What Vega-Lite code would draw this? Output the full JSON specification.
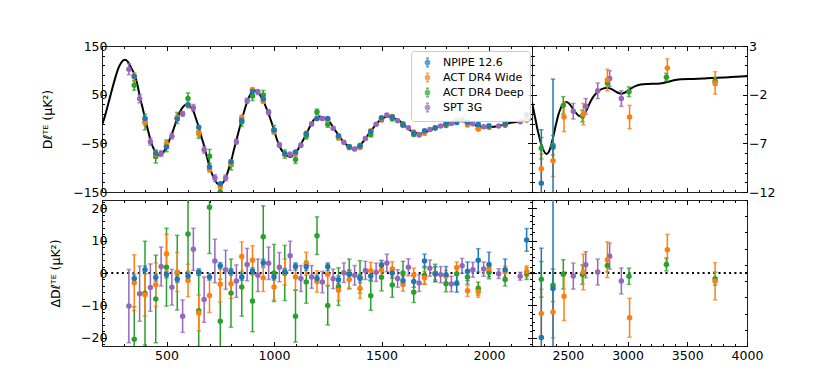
{
"$schema": "https://vega.github.io/schema/vega-lite/v6.json",
"background": "white",
"padding": {"left": 41, "top": 39, "right": 5, "bottom": 5},
"config": {
  "font": "DejaVu Sans",
  "view": {"stroke": "#222222", "strokeWidth": 1},
  "axis": {"domain": false, "grid": false, "tickColor": "black", "tickWidth": 1, "labelFont": "DejaVu Sans", "labelFontSize": 12.5, "labelColor": "black", "titleFont": "DejaVu Sans", "titleFontSize": 12.5, "titleFontWeight": "normal", "titleColor": "black", "labelOverlap": false, "labelFlush": false, "labelBound": false, "labelPadding": 1.5},
  "axisBottom": {"labelPadding": 8},
  "axisLeft": {"labelPadding": -0.5},
  "axisRight": {"labelPadding": 6},
  "legend": {"labelFont": "DejaVu Sans", "labelFontSize": 11, "labelColor": "black"}
},
"datasets": {
  "pts": [
    {"l":325,"s":"SPT 3G","D":102.4,"R":-10.2,"e":11.3},{"l":375,"s":"SPT 3G","D":41.6,"R":-6.4,"e":8.5},{"l":425,"s":"SPT 3G","D":-46.5,"R":-4.5,"e":7.3},{"l":475,"s":"SPT 3G","D":-71.0,"R":2.0,"e":6.0},{"l":525,"s":"SPT 3G","D":-35.4,"R":-4.4,"e":5.5},{"l":575,"s":"SPT 3G","D":10.7,"R":-13.3,"e":5.0},{"l":625,"s":"SPT 3G","D":23.3,"R":7.3,"e":6.5},{"l":675,"s":"SPT 3G","D":-63.2,"R":-8.2,"e":7.0},{"l":725,"s":"SPT 3G","D":-121.3,"R":3.7,"e":6.7},{"l":775,"s":"SPT 3G","D":-121.0,"R":1.0,"e":6.0},{"l":825,"s":"SPT 3G","D":-46.5,"R":-2.5,"e":5.0},{"l":875,"s":"SPT 3G","D":37.6,"R":2.6,"e":5.0},{"l":925,"s":"SPT 3G","D":55.3,"R":-0.7,"e":5.0},{"l":975,"s":"SPT 3G","D":14.0,"R":3.0,"e":5.0},{"l":1025,"s":"SPT 3G","D":-53.2,"R":1.8,"e":4.5},{"l":1075,"s":"SPT 3G","D":-72.7,"R":5.3,"e":4.5},{"l":1125,"s":"SPT 3G","D":-53.7,"R":-1.7,"e":4.0},{"l":1175,"s":"SPT 3G","D":-10.2,"R":-1.2,"e":3.5},{"l":1225,"s":"SPT 3G","D":1.2,"R":-2.8,"e":3.3},{"l":1275,"s":"SPT 3G","D":-18.8,"R":-1.8,"e":3.0},{"l":1325,"s":"SPT 3G","D":-47.9,"R":0.1,"e":3.0},{"l":1375,"s":"SPT 3G","D":-61.7,"R":-0.7,"e":3.0},{"l":1425,"s":"SPT 3G","D":-40.2,"R":0.8,"e":2.8},{"l":1475,"s":"SPT 3G","D":-10.8,"R":0.2,"e":2.8},{"l":1525,"s":"SPT 3G","D":8.1,"R":3.1,"e":2.7},{"l":1575,"s":"SPT 3G","D":-3.7,"R":-1.7,"e":2.7},{"l":1625,"s":"SPT 3G","D":-18.2,"R":1.8,"e":2.6},{"l":1675,"s":"SPT 3G","D":-33.1,"R":-3.1,"e":2.6},{"l":1725,"s":"SPT 3G","D":-21.5,"R":1.5,"e":2.5},{"l":1775,"s":"SPT 3G","D":-14.5,"R":-0.5,"e":2.5},{"l":1825,"s":"SPT 3G","D":-9.4,"R":-3.4,"e":2.4},{"l":1875,"s":"SPT 3G","D":-1.8,"R":2.2,"e":2.3},{"l":1925,"s":"SPT 3G","D":-10.0,"R":1.0,"e":2.3},{"l":1975,"s":"SPT 3G","D":-15.8,"R":1.2,"e":2.2},{"l":2045,"s":"SPT 3G","D":-14.6,"R":-0.2,"e":1.5},{"l":2145,"s":"SPT 3G","D":-5.5,"R":-1.0,"e":1.2},
    {"l":2546,"s":"SPT 3G","D":-3.7,"R":-0.19,"e":0.8},{"l":2650,"s":"SPT 3G","D":-3.2,"R":0.51,"e":0.8},{"l":2750,"s":"SPT 3G","D":-1.6,"R":0.06,"e":0.8},{"l":2850,"s":"SPT 3G","D":-0.34,"R":1.04,"e":0.8},{"l":2948,"s":"SPT 3G","D":-2.4,"R":-0.49,"e":0.8},
    {"l":350,"s":"ACT DR4 Deep","D":69.3,"R":-20.4,"e":10},{"l":400,"s":"ACT DR4 Deep","D":-6.2,"R":-6.2,"e":16},{"l":450,"s":"ACT DR4 Deep","D":-77.0,"R":-8.0,"e":13.5},{"l":500,"s":"ACT DR4 Deep","D":-55.2,"R":1.8,"e":12},{"l":550,"s":"ACT DR4 Deep","D":2.1,"R":0.1,"e":11.5},{"l":600,"s":"ACT DR4 Deep","D":42.0,"R":12.0,"e":11.5},{"l":650,"s":"ACT DR4 Deep","D":-28.6,"R":-11.6,"e":11},{"l":700,"s":"ACT DR4 Deep","D":-76.7,"R":20.3,"e":14.3},{"l":750,"s":"ACT DR4 Deep","D":-149.9,"R":-14.9,"e":13},{"l":800,"s":"ACT DR4 Deep","D":-94.2,"R":-6.2,"e":10.5},{"l":850,"s":"ACT DR4 Deep","D":-6.3,"R":-4.3,"e":9},{"l":900,"s":"ACT DR4 Deep","D":47.4,"R":-8.6,"e":9.5},{"l":950,"s":"ACT DR4 Deep","D":49.2,"R":11.2,"e":9.5},{"l":1000,"s":"ACT DR4 Deep","D":-22.0,"R":0.0,"e":8.8},{"l":1050,"s":"ACT DR4 Deep","D":-72.0,"R":0.0,"e":8.5},{"l":1100,"s":"ACT DR4 Deep","D":-83.3,"R":-13.3,"e":8},{"l":1150,"s":"ACT DR4 Deep","D":-34.8,"R":-2.8,"e":6.5},{"l":1200,"s":"ACT DR4 Deep","D":14.5,"R":11.5,"e":5.8},{"l":1250,"s":"ACT DR4 Deep","D":-11.0,"R":-10.0,"e":6},{"l":1300,"s":"ACT DR4 Deep","D":-37.2,"R":-4.2,"e":5.8},{"l":1350,"s":"ACT DR4 Deep","D":-57.2,"R":-0.2,"e":4.5},{"l":1400,"s":"ACT DR4 Deep","D":-55.2,"R":-1.2,"e":5},{"l":1450,"s":"ACT DR4 Deep","D":-32.0,"R":-7.0,"e":4.5},{"l":1500,"s":"ACT DR4 Deep","D":-1.3,"R":-1.3,"e":4.2},{"l":1550,"s":"ACT DR4 Deep","D":0.3,"R":-3.7,"e":3.8},{"l":1600,"s":"ACT DR4 Deep","D":-10.0,"R":0.0,"e":3.6},{"l":1650,"s":"ACT DR4 Deep","D":-31.9,"R":-5.9,"e":3.2},{"l":1700,"s":"ACT DR4 Deep","D":-28.7,"R":-0.7,"e":2.8},{"l":1750,"s":"ACT DR4 Deep","D":-18.0,"R":0.0,"e":2.7},{"l":1800,"s":"ACT DR4 Deep","D":-13.3,"R":-3.3,"e":2.5},{"l":1850,"s":"ACT DR4 Deep","D":-4.2,"R":-0.2,"e":2.3},{"l":1900,"s":"ACT DR4 Deep","D":-8.2,"R":-1.2,"e":2.2},{"l":1950,"s":"ACT DR4 Deep","D":-19.8,"R":-4.8,"e":2.0},{"l":2000,"s":"ACT DR4 Deep","D":-16.8,"R":0.2,"e":2.0},{"l":2075,"s":"ACT DR4 Deep","D":-13.0,"R":-2.0,"e":2.0},{"l":2175,"s":"ACT DR4 Deep","D":-2.2,"R":-0.2,"e":1.8},
    {"l":2278,"s":"ACT DR4 Deep","D":-7.5,"R":-0.39,"e":1.1},{"l":2376,"s":"ACT DR4 Deep","D":-7.2,"R":-0.76,"e":1.0},{"l":2462,"s":"ACT DR4 Deep","D":-3.1,"R":-0.08,"e":0.9},{"l":2622,"s":"ACT DR4 Deep","D":-4.2,"R":-0.1,"e":0.6},{"l":2831,"s":"ACT DR4 Deep","D":-0.8,"R":0.47,"e":0.4},{"l":3012,"s":"ACT DR4 Deep","D":-1.7,"R":-0.2,"e":0.5},{"l":3325,"s":"ACT DR4 Deep","D":-0.2,"R":0.53,"e":0.4},{"l":3733,"s":"ACT DR4 Deep","D":-0.63,"R":-0.35,"e":0.4},
    {"l":350,"s":"ACT DR4 Wide","D":86.7,"R":-3.0,"e":8.6},{"l":400,"s":"ACT DR4 Wide","D":-6.7,"R":-6.7,"e":6.5},{"l":450,"s":"ACT DR4 Wide","D":-72.6,"R":-3.6,"e":6.7},{"l":500,"s":"ACT DR4 Wide","D":-51.1,"R":5.9,"e":6.0},{"l":550,"s":"ACT DR4 Wide","D":2.3,"R":0.3,"e":6.0},{"l":600,"s":"ACT DR4 Wide","D":27.7,"R":-2.3,"e":5.0},{"l":650,"s":"ACT DR4 Wide","D":-29.3,"R":-12.3,"e":5.5},{"l":700,"s":"ACT DR4 Wide","D":-103.9,"R":-6.9,"e":5.3},{"l":750,"s":"ACT DR4 Wide","D":-138.5,"R":-3.5,"e":5.4},{"l":800,"s":"ACT DR4 Wide","D":-91.3,"R":-3.3,"e":4.5},{"l":850,"s":"ACT DR4 Wide","D":3.1,"R":5.1,"e":4.5},{"l":900,"s":"ACT DR4 Wide","D":59.9,"R":3.9,"e":4.5},{"l":950,"s":"ACT DR4 Wide","D":36.5,"R":-1.5,"e":4.2},{"l":1000,"s":"ACT DR4 Wide","D":-26.3,"R":-4.3,"e":4.0},{"l":1050,"s":"ACT DR4 Wide","D":-71.7,"R":0.3,"e":4.0},{"l":1100,"s":"ACT DR4 Wide","D":-71.2,"R":-1.2,"e":4.0},{"l":1150,"s":"ACT DR4 Wide","D":-29.1,"R":2.9,"e":3.5},{"l":1200,"s":"ACT DR4 Wide","D":0.4,"R":-2.6,"e":3.3},{"l":1250,"s":"ACT DR4 Wide","D":-1.5,"R":-0.5,"e":3.2},{"l":1300,"s":"ACT DR4 Wide","D":-38.3,"R":-5.3,"e":3.2},{"l":1350,"s":"ACT DR4 Wide","D":-59.0,"R":-2.0,"e":3.0},{"l":1400,"s":"ACT DR4 Wide","D":-58.8,"R":-4.8,"e":3.0},{"l":1450,"s":"ACT DR4 Wide","D":-24.3,"R":0.7,"e":2.6},{"l":1500,"s":"ACT DR4 Wide","D":0.9,"R":0.9,"e":2.4},{"l":1550,"s":"ACT DR4 Wide","D":5.2,"R":1.2,"e":2.3},{"l":1600,"s":"ACT DR4 Wide","D":-13.4,"R":-3.4,"e":2.2},{"l":1650,"s":"ACT DR4 Wide","D":-26.6,"R":-0.6,"e":2.1},{"l":1700,"s":"ACT DR4 Wide","D":-29.5,"R":-1.5,"e":2.0},{"l":1750,"s":"ACT DR4 Wide","D":-18.2,"R":-0.2,"e":1.9},{"l":1800,"s":"ACT DR4 Wide","D":-11.0,"R":-1.0,"e":1.8},{"l":1850,"s":"ACT DR4 Wide","D":-2.4,"R":1.6,"e":1.8},{"l":1900,"s":"ACT DR4 Wide","D":-12.5,"R":-5.5,"e":1.7},{"l":1950,"s":"ACT DR4 Wide","D":-20.8,"R":-5.8,"e":1.7},{"l":2000,"s":"ACT DR4 Wide","D":-15.7,"R":1.3,"e":1.7},{"l":2075,"s":"ACT DR4 Wide","D":-10.6,"R":0.4,"e":1.7},{"l":2175,"s":"ACT DR4 Wide","D":-1.5,"R":0.5,"e":1.7},
    {"l":2278,"s":"ACT DR4 Wide","D":-9.6,"R":-2.5,"e":1.5},{"l":2376,"s":"ACT DR4 Wide","D":-8.8,"R":-2.4,"e":1.6},{"l":2468,"s":"ACT DR4 Wide","D":-4.3,"R":-1.43,"e":1.5},{"l":2630,"s":"ACT DR4 Wide","D":-4.0,"R":0.06,"e":1.1},{"l":2831,"s":"ACT DR4 Wide","D":-0.5,"R":0.82,"e":1.1},{"l":3017,"s":"ACT DR4 Wide","D":-4.3,"R":-2.76,"e":1.2},{"l":3333,"s":"ACT DR4 Wide","D":0.73,"R":1.43,"e":0.95},{"l":3733,"s":"ACT DR4 Wide","D":-0.79,"R":-0.51,"e":1.15},
    {"l":350,"s":"NPIPE 12.6","D":88.0,"R":-1.7,"e":1.2},{"l":400,"s":"NPIPE 12.6","D":1.0,"R":1.0,"e":1.2},{"l":450,"s":"NPIPE 12.6","D":-70.4,"R":-1.4,"e":1.1},{"l":500,"s":"NPIPE 12.6","D":-57.5,"R":-0.5,"e":1.0},{"l":550,"s":"NPIPE 12.6","D":0.1,"R":-1.9,"e":1.0},{"l":600,"s":"NPIPE 12.6","D":29.1,"R":-0.9,"e":1.0},{"l":650,"s":"NPIPE 12.6","D":-16.7,"R":0.3,"e":1.0},{"l":700,"s":"NPIPE 12.6","D":-98.2,"R":-1.2,"e":1.0},{"l":750,"s":"NPIPE 12.6","D":-132.8,"R":2.2,"e":1.0},{"l":800,"s":"NPIPE 12.6","D":-87.7,"R":0.3,"e":1.0},{"l":850,"s":"NPIPE 12.6","D":-3.2,"R":-1.2,"e":1.0},{"l":900,"s":"NPIPE 12.6","D":56.6,"R":0.6,"e":1.0},{"l":950,"s":"NPIPE 12.6","D":41.2,"R":3.2,"e":1.0},{"l":1000,"s":"NPIPE 12.6","D":-23.2,"R":-1.2,"e":1.0},{"l":1050,"s":"NPIPE 12.6","D":-71.6,"R":0.4,"e":1.0},{"l":1100,"s":"NPIPE 12.6","D":-68.0,"R":2.0,"e":1.1},{"l":1150,"s":"NPIPE 12.6","D":-30.1,"R":1.9,"e":1.1},{"l":1200,"s":"NPIPE 12.6","D":1.3,"R":-1.7,"e":1.1},{"l":1250,"s":"NPIPE 12.6","D":0.9,"R":1.9,"e":1.2},{"l":1300,"s":"NPIPE 12.6","D":-35.1,"R":-2.1,"e":1.2},{"l":1350,"s":"NPIPE 12.6","D":-57.5,"R":-0.5,"e":1.3},{"l":1400,"s":"NPIPE 12.6","D":-55.7,"R":-1.7,"e":1.3},{"l":1450,"s":"NPIPE 12.6","D":-25.9,"R":-0.9,"e":1.4},{"l":1500,"s":"NPIPE 12.6","D":2.4,"R":2.4,"e":1.5},{"l":1550,"s":"NPIPE 12.6","D":4.0,"R":0.0,"e":1.6},{"l":1600,"s":"NPIPE 12.6","D":-12.4,"R":-2.4,"e":1.7},{"l":1650,"s":"NPIPE 12.6","D":-28.6,"R":-2.6,"e":1.8},{"l":1700,"s":"NPIPE 12.6","D":-24.3,"R":3.7,"e":2.1},{"l":1750,"s":"NPIPE 12.6","D":-18.3,"R":-0.3,"e":2.3},{"l":1800,"s":"NPIPE 12.6","D":-10.5,"R":-0.5,"e":2.5},{"l":1850,"s":"NPIPE 12.6","D":-7.2,"R":-3.2,"e":2.7},{"l":1900,"s":"NPIPE 12.6","D":-6.5,"R":0.5,"e":2.9},{"l":1950,"s":"NPIPE 12.6","D":-11.1,"R":3.9,"e":3.6},{"l":2000,"s":"NPIPE 12.6","D":-14.4,"R":2.6,"e":3.8},{"l":2075,"s":"NPIPE 12.6","D":-10.0,"R":1.0,"e":3.3},{"l":2175,"s":"NPIPE 12.6","D":8.2,"R":10.2,"e":3.5},
    {"l":2278,"s":"NPIPE 12.6","D":-11.1,"R":-3.97,"e":5.5},{"l":2376,"s":"NPIPE 12.6","D":-7.4,"R":-0.96,"e":7.0}
  ],
  "mtl": [
    {"l":200,"v":-13},{"l":215,"v":8},{"l":230,"v":33},{"l":245,"v":58},{"l":260,"v":82},{"l":275,"v":103},{"l":290,"v":116},{"l":300,"v":121},{"l":308,"v":122},{"l":318,"v":119},{"l":330,"v":110},{"l":342,"v":100},{"l":354,"v":88},{"l":366,"v":68},{"l":376,"v":46},{"l":388,"v":24},{"l":400,"v":2},{"l":412,"v":-20},{"l":425,"v":-42},{"l":437,"v":-58},{"l":450,"v":-69},{"l":462,"v":-74},{"l":475,"v":-73},{"l":488,"v":-67},{"l":500,"v":-57},{"l":512,"v":-45},{"l":525,"v":-31},{"l":538,"v":-14},{"l":550,"v":2},{"l":562,"v":14},{"l":575,"v":24},{"l":587,"v":29},{"l":600,"v":30},{"l":612,"v":25},{"l":625,"v":16},{"l":637,"v":1},{"l":650,"v":-17},{"l":662,"v":-36},{"l":675,"v":-55},{"l":687,"v":-76},{"l":700,"v":-97},{"l":712,"v":-113},{"l":725,"v":-125},{"l":737,"v":-133},{"l":750,"v":-135},{"l":762,"v":-131},{"l":775,"v":-122},{"l":787,"v":-106},{"l":800,"v":-88},{"l":812,"v":-66},{"l":825,"v":-44},{"l":837,"v":-23},{"l":850,"v":-2},{"l":862,"v":17},{"l":875,"v":35},{"l":887,"v":48},{"l":900,"v":56},{"l":912,"v":58},{"l":925,"v":56},{"l":937,"v":48},{"l":950,"v":38},{"l":962,"v":25},{"l":975,"v":11},{"l":987,"v":-5},{"l":1000,"v":-22},{"l":1012,"v":-40},{"l":1025,"v":-55},{"l":1037,"v":-65},{"l":1050,"v":-72},{"l":1062,"v":-76},{"l":1075,"v":-78},{"l":1087,"v":-75},{"l":1100,"v":-70},{"l":1112,"v":-62},{"l":1125,"v":-52},{"l":1137,"v":-42},{"l":1150,"v":-32},{"l":1162,"v":-20},{"l":1175,"v":-9},{"l":1187,"v":-1},{"l":1200,"v":3},{"l":1212,"v":5},{"l":1225,"v":4},{"l":1237,"v":2},{"l":1250,"v":-1},{"l":1262,"v":-8},{"l":1275,"v":-17},{"l":1287,"v":-25},{"l":1300,"v":-33},{"l":1312,"v":-41},{"l":1325,"v":-48},{"l":1337,"v":-53},{"l":1350,"v":-57},{"l":1362,"v":-60},{"l":1375,"v":-61},{"l":1387,"v":-59},{"l":1400,"v":-54},{"l":1412,"v":-48},{"l":1425,"v":-41},{"l":1437,"v":-33},{"l":1450,"v":-25},{"l":1462,"v":-18},{"l":1475,"v":-11},{"l":1487,"v":-5},{"l":1500,"v":0},{"l":1512,"v":3},{"l":1525,"v":5},{"l":1537,"v":5},{"l":1550,"v":4},{"l":1562,"v":1},{"l":1575,"v":-2},{"l":1587,"v":-5},{"l":1600,"v":-10},{"l":1612,"v":-15},{"l":1625,"v":-20},{"l":1637,"v":-24},{"l":1650,"v":-26},{"l":1662,"v":-29},{"l":1675,"v":-30},{"l":1687,"v":-30},{"l":1700,"v":-28},{"l":1712,"v":-26},{"l":1725,"v":-23},{"l":1737,"v":-21},{"l":1750,"v":-18},{"l":1775,"v":-14},{"l":1800,"v":-10},{"l":1825,"v":-6},{"l":1850,"v":-4},{"l":1875,"v":-4},{"l":1900,"v":-7},{"l":1925,"v":-11},{"l":1950,"v":-15},{"l":1975,"v":-17},{"l":2000,"v":-17},{"l":2025,"v":-16},{"l":2050,"v":-14},{"l":2075,"v":-11},{"l":2100,"v":-8},{"l":2125,"v":-6},{"l":2150,"v":-4},{"l":2175,"v":-2},{"l":2200,"v":0}
  ],
  "mtr": [
    {"l":2200,"v":-2.8},{"l":2225,"v":-4.3},{"l":2250,"v":-5.8},{"l":2275,"v":-7.0},{"l":2300,"v":-7.8},{"l":2320,"v":-8.1},{"l":2340,"v":-7.9},{"l":2360,"v":-7.2},{"l":2380,"v":-6.2},{"l":2400,"v":-5.1},{"l":2420,"v":-4.1},{"l":2440,"v":-3.4},{"l":2460,"v":-3.0},{"l":2485,"v":-2.75},{"l":2510,"v":-2.9},{"l":2540,"v":-3.4},{"l":2570,"v":-3.9},{"l":2600,"v":-4.2},{"l":2630,"v":-4.1},{"l":2660,"v":-3.5},{"l":2690,"v":-2.7},{"l":2720,"v":-2.1},{"l":2760,"v":-1.6},{"l":2800,"v":-1.35},{"l":2830,"v":-1.3},{"l":2870,"v":-1.45},{"l":2910,"v":-1.75},{"l":2950,"v":-1.9},{"l":2990,"v":-1.7},{"l":3030,"v":-1.35},{"l":3070,"v":-1.1},{"l":3110,"v":-0.95},{"l":3170,"v":-0.9},{"l":3250,"v":-0.88},{"l":3300,"v":-0.8},{"l":3350,"v":-0.65},{"l":3400,"v":-0.5},{"l":3450,"v":-0.42},{"l":3550,"v":-0.38},{"l":3650,"v":-0.33},{"l":3750,"v":-0.27},{"l":3850,"v":-0.2},{"l":3950,"v":-0.13},{"l":4000,"v":-0.1}
  ]
},
"spacing": -6,
"vconcat": [
  {"hconcat": [
    {"width": 430, "height": 146,
     "layer": [
      {"data": {"name": "mtl"},
       "mark": {"type": "line", "color": "black", "strokeWidth": 2, "interpolate": "monotone", "clip": true},
       "encoding": {
         "x": {"field": "l", "type": "quantitative", "scale": {"domain": [200, 2200], "nice": false, "zero": false},
               "axis": {"orient": "bottom", "values": [200,300,400,500,600,700,800,900,1000,1100,1200,1300,1400,1500,1600,1700,1800,1900,2000,2100,2200], "tickSize": {"condition": {"test": "datum.value % 500 === 0", "value": -4.5}, "value": -2.5}, "labels": false, "title": null}},
         "y": {"field": "v", "type": "quantitative", "scale": {"domain": [-150, 150], "nice": false, "zero": false},
               "axis": {"orient": "left", "values": [-150,-130,-110,-90,-70,-50,-30,-10,10,30,50,70,90,110,130,150], "tickSize": {"condition": {"test": "abs(datum.value) % 100 === 50", "value": -4.5}, "value": -2.5}, "format": "d", "labelExpr": "abs(datum.value) % 100 === 50 ? datum.label : ''", "title": "Dℓᵀᴱ (μK²)", "titlePadding": 18}}
       }},
      {"data": {"name": "pts"}, "transform": [{"filter": "datum.l < 2200"}],
       "mark": {"type": "errorbar", "ticks": {"size": 4.5}, "thickness": 1.5, "clip": true},
       "encoding": {
         "x": {"field": "l", "type": "quantitative", "axis": null},
         "y": {"field": "D", "type": "quantitative", "axis": null},
         "yError": {"field": "e"},
         "color": {"field": "s", "type": "nominal"}
       }},
      {"data": {"name": "pts"}, "transform": [{"filter": "datum.l < 2200"}],
       "mark": {"type": "point", "filled": true, "size": 30, "opacity": 1, "clip": true},
       "encoding": {
         "x": {"field": "l", "type": "quantitative",
               "axis": {"orient": "top", "values": [200,300,400,500,600,700,800,900,1000,1100,1200,1300,1400,1500,1600,1700,1800,1900,2000,2100,2200], "tickSize": {"condition": {"test": "datum.value % 500 === 0", "value": -4.5}, "value": -2.5}, "labels": false, "title": null}},
         "y": {"field": "D", "type": "quantitative",
               "axis": {"orient": "right", "values": [-150,-130,-110,-90,-70,-50,-30,-10,10,30,50,70,90,110,130,150], "tickSize": {"condition": {"test": "abs(datum.value) % 100 === 50", "value": -4.5}, "value": -2.5}, "labels": false, "title": null}},
         "color": {"field": "s", "type": "nominal",
                   "scale": {"domain": ["NPIPE 12.6", "ACT DR4 Wide", "ACT DR4 Deep", "SPT 3G"], "range": ["#1f77b4", "#ff7f0e", "#2ca02c", "#9467bd"]},
                   "legend": {"orient": "none", "legendX": 309, "legendY": 5, "title": null, "symbolSize": 70, "symbolOffset": 5, "symbolType": "M0,-1V1M-0.35,-1H0.35M-0.35,1H0.35M-0.5,0A0.5,0.5,0,1,1,0.5,0A0.5,0.5,0,1,1,-0.5,0Z", "symbolStrokeWidth": 1.5, "padding": 6, "rowPadding": 0, "labelOffset": 10, "strokeColor": "#cccccc", "fillColor": "rgba(255,255,255,0.85)", "cornerRadius": 3,
                              "encode": {"symbols": {"update": {"fill": {"scale": "color", "field": "value"}, "stroke": {"scale": "color", "field": "value"}, "opacity": {"value": 1}}}}}}
       }}
     ],
     "resolve": {"axis": {"x": "independent", "y": "independent"}}
    },
    {"width": 215, "height": 146,
     "layer": [
      {"data": {"name": "mtr"},
       "mark": {"type": "line", "color": "black", "strokeWidth": 2, "interpolate": "monotone", "clip": true},
       "encoding": {
         "x": {"field": "l", "type": "quantitative", "scale": {"domain": [2200, 4000], "nice": false, "zero": false},
               "axis": {"orient": "bottom", "values": [2200,2300,2400,2500,2600,2700,2800,2900,3000,3100,3200,3300,3400,3500,3600,3700,3800,3900,4000], "tickSize": {"condition": {"test": "datum.value % 500 === 0", "value": -4.5}, "value": -2.5}, "labels": false, "title": null}},
         "y": {"field": "v", "type": "quantitative", "scale": {"domain": [-12, 3], "nice": false, "zero": false},
               "axis": {"orient": "left", "values": [-12,-11,-10,-9,-8,-7,-6,-5,-4,-3,-2,-1,0,1,2,3], "tickSize": {"condition": {"test": "(datum.value + 12) % 5 === 0", "value": -4.5}, "value": -2.5}, "labels": false, "title": null}}
       }},
      {"data": {"name": "pts"}, "transform": [{"filter": "datum.l > 2200"}],
       "mark": {"type": "errorbar", "ticks": {"size": 4.5}, "thickness": 1.5, "clip": true},
       "encoding": {
         "x": {"field": "l", "type": "quantitative", "axis": null},
         "y": {"field": "D", "type": "quantitative", "axis": null},
         "yError": {"field": "e"},
         "color": {"field": "s", "type": "nominal"}
       }},
      {"data": {"name": "pts"}, "transform": [{"filter": "datum.l > 2200"}],
       "mark": {"type": "point", "filled": true, "size": 30, "opacity": 1, "clip": true},
       "encoding": {
         "x": {"field": "l", "type": "quantitative",
               "axis": {"orient": "top", "values": [2200,2300,2400,2500,2600,2700,2800,2900,3000,3100,3200,3300,3400,3500,3600,3700,3800,3900,4000], "tickSize": {"condition": {"test": "datum.value % 500 === 0", "value": -4.5}, "value": -2.5}, "labels": false, "title": null}},
         "y": {"field": "D", "type": "quantitative",
               "axis": {"orient": "right", "values": [-12,-11,-10,-9,-8,-7,-6,-5,-4,-3,-2,-1,0,1,2,3], "tickSize": {"condition": {"test": "(datum.value + 12) % 5 === 0", "value": -4.5}, "value": -2.5}, "format": "d", "labelExpr": "(datum.value + 12) % 5 === 0 ? datum.label : ''", "title": null}},
         "color": {"field": "s", "type": "nominal"}
       }}
     ],
     "resolve": {"axis": {"x": "independent", "y": "independent"}}
    }
  ], "spacing": 0, "bounds": "flush"},
  {"hconcat": [
    {"width": 430, "height": 146,
     "layer": [
      {"data": {"values": [{}]},
       "mark": {"type": "rule", "color": "black", "strokeWidth": 2, "strokeDash": [2, 3.3]},
       "encoding": {"y": {"datum": 0, "type": "quantitative", "axis": null, "scale": {"domain": [-22.5, 22.5], "nice": false, "zero": false}}}},
      {"data": {"name": "pts"}, "transform": [{"filter": "datum.l < 2200"}],
       "mark": {"type": "errorbar", "ticks": {"size": 4.5}, "thickness": 1.5, "clip": true},
       "encoding": {
         "x": {"field": "l", "type": "quantitative", "axis": null, "scale": {"domain": [200, 2200], "nice": false, "zero": false}},
         "y": {"field": "R", "type": "quantitative", "axis": null},
         "yError": {"field": "e"},
         "color": {"field": "s", "type": "nominal"}
       }},
      {"data": {"name": "pts"}, "transform": [{"filter": "datum.l < 2200"}],
       "mark": {"type": "point", "filled": true, "size": 30, "opacity": 1, "clip": true},
       "encoding": {
         "x": {"field": "l", "type": "quantitative",
               "axis": {"orient": "bottom", "values": [200,300,400,500,600,700,800,900,1000,1100,1200,1300,1400,1500,1600,1700,1800,1900,2000,2100,2200], "tickSize": {"condition": {"test": "datum.value % 500 === 0", "value": -4.5}, "value": -2.5}, "format": "d", "labelExpr": "datum.value % 500 === 0 ? datum.label : ''", "title": null}},
         "y": {"field": "R", "type": "quantitative",
               "axis": {"orient": "left", "values": [-22,-20,-18,-16,-14,-12,-10,-8,-6,-4,-2,0,2,4,6,8,10,12,14,16,18,20,22], "tickSize": {"condition": {"test": "datum.value % 10 === 0", "value": -4.5}, "value": -2.5}, "format": "d", "labelExpr": "datum.value % 10 === 0 ? datum.label : ''", "title": "ΔDℓᵀᴱ (μK²)", "titlePadding": 18}},
         "color": {"field": "s", "type": "nominal"}
       }},
      {"data": {"name": "pts"}, "transform": [{"filter": "datum.l < 2200"}],
       "mark": {"type": "point", "opacity": 0, "size": 1},
       "encoding": {
         "x": {"field": "l", "type": "quantitative",
               "axis": {"orient": "top", "values": [200,300,400,500,600,700,800,900,1000,1100,1200,1300,1400,1500,1600,1700,1800,1900,2000,2100,2200], "tickSize": {"condition": {"test": "datum.value % 500 === 0", "value": -4.5}, "value": -2.5}, "labels": false, "title": null}},
         "y": {"field": "R", "type": "quantitative",
               "axis": {"orient": "right", "values": [-22,-20,-18,-16,-14,-12,-10,-8,-6,-4,-2,0,2,4,6,8,10,12,14,16,18,20,22], "tickSize": {"condition": {"test": "datum.value % 10 === 0", "value": -4.5}, "value": -2.5}, "labels": false, "title": null}}
       }}
     ],
     "resolve": {"axis": {"x": "independent", "y": "independent"}}
    },
    {"width": 215, "height": 146,
     "layer": [
      {"data": {"values": [{}]},
       "mark": {"type": "rule", "color": "black", "strokeWidth": 2, "strokeDash": [2, 3.3]},
       "encoding": {"y": {"datum": 0, "type": "quantitative", "axis": null, "scale": {"domain": [-4.5, 4.5], "nice": false, "zero": false}}}},
      {"data": {"name": "pts"}, "transform": [{"filter": "datum.l > 2200"}],
       "mark": {"type": "errorbar", "ticks": {"size": 4.5}, "thickness": 1.5, "clip": true},
       "encoding": {
         "x": {"field": "l", "type": "quantitative", "axis": null, "scale": {"domain": [2200, 4000], "nice": false, "zero": false}},
         "y": {"field": "R", "type": "quantitative", "axis": null},
         "yError": {"field": "e"},
         "color": {"field": "s", "type": "nominal"}
       }},
      {"data": {"name": "pts"}, "transform": [{"filter": "datum.l > 2200"}],
       "mark": {"type": "point", "filled": true, "size": 30, "opacity": 1, "clip": true},
       "encoding": {
         "x": {"field": "l", "type": "quantitative",
               "axis": {"orient": "bottom", "values": [2200,2300,2400,2500,2600,2700,2800,2900,3000,3100,3200,3300,3400,3500,3600,3700,3800,3900,4000], "tickSize": {"condition": {"test": "datum.value % 500 === 0", "value": -4.5}, "value": -2.5}, "format": "d", "labelExpr": "datum.value % 500 === 0 ? datum.label : ''", "title": null}},
         "y": {"field": "R", "type": "quantitative",
               "axis": {"orient": "left", "values": [-4.5,-4,-3.5,-3,-2.5,-2,-1.5,-1,-0.5,0,0.5,1,1.5,2,2.5,3,3.5,4,4.5], "tickSize": {"condition": {"test": "datum.value % 2 === 0", "value": -4.5}, "value": -2.5}, "labels": false, "title": null}},
         "color": {"field": "s", "type": "nominal"}
       }},
      {"data": {"name": "pts"}, "transform": [{"filter": "datum.l > 2200"}],
       "mark": {"type": "point", "opacity": 0, "size": 1},
       "encoding": {
         "x": {"field": "l", "type": "quantitative",
               "axis": {"orient": "top", "values": [2200,2300,2400,2500,2600,2700,2800,2900,3000,3100,3200,3300,3400,3500,3600,3700,3800,3900,4000], "tickSize": {"condition": {"test": "datum.value % 500 === 0", "value": -4.5}, "value": -2.5}, "labels": false, "title": null}},
         "y": {"field": "R", "type": "quantitative",
               "axis": {"orient": "right", "values": [-4.5,-4,-3.5,-3,-2.5,-2,-1.5,-1,-0.5,0,0.5,1,1.5,2,2.5,3,3.5,4,4.5], "tickSize": {"condition": {"test": "datum.value % 2 === 0", "value": -4.5}, "value": -2.5}, "format": "d", "labelExpr": "datum.value % 2 === 0 ? datum.label : ''", "title": null}}
       }}
     ],
     "resolve": {"axis": {"x": "independent", "y": "independent"}}
    }
  ], "spacing": 0, "bounds": "flush"}
]
}
